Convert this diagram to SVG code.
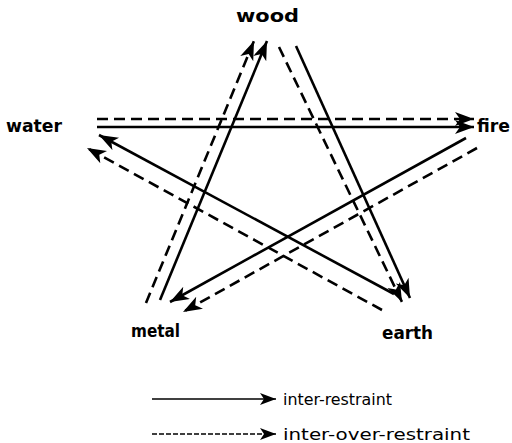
<svg xmlns="http://www.w3.org/2000/svg" width="512" height="443" viewBox="0 0 512 443">
<defs>
<marker id="ah" markerUnits="userSpaceOnUse" markerWidth="22" markerHeight="16" refX="19" refY="7" orient="auto">
<path d="M0,0 L19,7 L0,14 L5,7 z" fill="#000"/>
</marker>
<marker id="ahs" markerUnits="userSpaceOnUse" markerWidth="18" markerHeight="14" refX="16" refY="6" orient="auto">
<path d="M0,0 L16,6 L0,12 L4,6 z" fill="#000"/>
</marker>
<style>
.s{stroke:#000;stroke-width:2.6;fill:none;marker-end:url(#ah)}
.d{stroke:#000;stroke-width:2.6;fill:none;stroke-dasharray:11 6;marker-end:url(#ah)}
.ls{stroke:#000;stroke-width:1.4;fill:none;marker-end:url(#ahs)}
.ld{stroke:#000;stroke-width:1.4;fill:none;stroke-dasharray:5 2;marker-end:url(#ahs)}
.lbl{font-family:"DejaVu Sans","Liberation Sans",sans-serif;font-weight:bold;font-size:17px;fill:#000}
.leg{font-family:"DejaVu Sans","Liberation Sans",sans-serif;font-size:16px;fill:#000}
</style>
</defs>
<rect width="512" height="443" fill="#fff"/>
<g id="wood"><text class="lbl" x="236" y="22" textLength="63" lengthAdjust="spacingAndGlyphs">wood</text></g>
<g id="water"><text class="lbl" x="6" y="132" textLength="56" lengthAdjust="spacingAndGlyphs">water</text></g>
<g id="fire"><text class="lbl" x="477" y="132" textLength="33" lengthAdjust="spacingAndGlyphs">fire</text></g>
<g id="metal"><text class="lbl" x="131" y="337" textLength="49" lengthAdjust="spacingAndGlyphs">metal</text></g>
<g id="earth"><text class="lbl" x="382" y="339" textLength="51" lengthAdjust="spacingAndGlyphs">earth</text></g>
<g id="connectors">
<line class="d" x1="97" y1="119" x2="474" y2="119"/>
<line class="s" x1="97" y1="127" x2="474" y2="127"/>
<line class="s" x1="466" y1="138" x2="170" y2="302"/>
<line class="d" x1="477" y1="148" x2="183" y2="312"/>
<line class="s" x1="394" y1="294" x2="99" y2="135"/>
<line class="d" x1="382" y1="310" x2="87" y2="148"/>
<line class="s" x1="160" y1="300" x2="267" y2="41"/>
<line class="d" x1="146" y1="303" x2="254" y2="41"/>
<line class="s" x1="296" y1="46" x2="410" y2="298"/>
<line class="d" x1="279" y1="47" x2="402" y2="302"/>
</g>
<g id="legend">
<line class="ls" x1="152" y1="399" x2="276" y2="399"/>
<line class="ld" x1="152" y1="434" x2="276" y2="434"/>
<text class="leg" x="283" y="405" textLength="109" lengthAdjust="spacingAndGlyphs">inter-restraint</text>
<text class="leg" x="283" y="440" textLength="187" lengthAdjust="spacingAndGlyphs">inter-over-restraint</text>
</g>
</svg>
